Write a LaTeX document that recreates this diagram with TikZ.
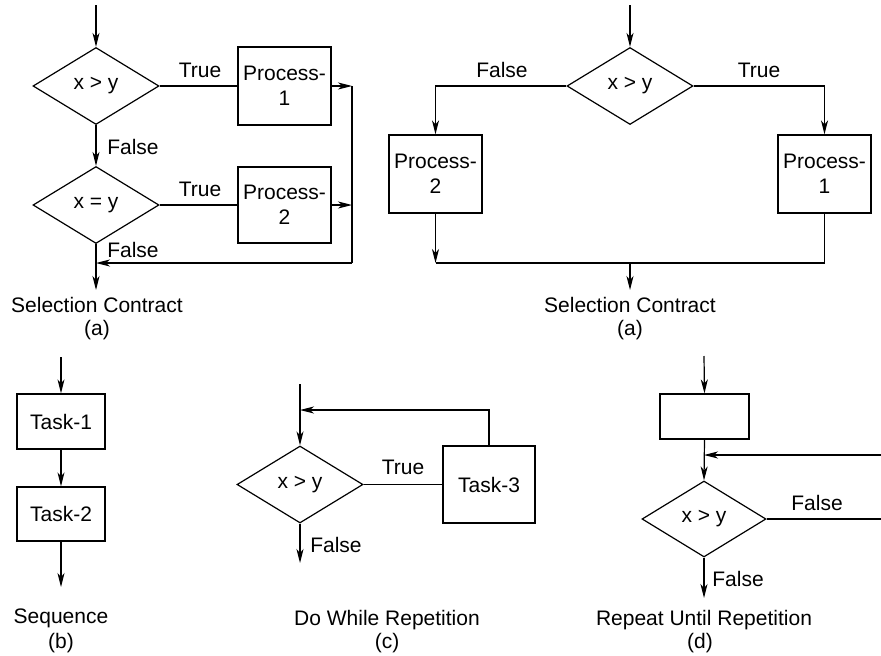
\documentclass[tikz,border=0pt]{standalone}
\usepackage{fontspec}
\setmainfont{Liberation Sans}
\usetikzlibrary{arrows.meta,shapes.geometric}
\begin{document}
\begin{tikzpicture}[x=1pt,y=-1pt,line width=1.2pt,
  every node/.style={font=\fontsize{21}{25}\selectfont},
  arr/.style={-{Stealth[length=14pt,width=7pt,inset=4pt]}},
  dec/.style={draw,diamond,inner sep=0pt,minimum width=126pt,minimum height=77pt},
  box/.style={draw,rectangle,inner sep=0pt,align=center},
  lbl/.style={inner sep=0pt}]
\useasboundingbox (0,0) rectangle (881,656);
% ---------- panel (a) left ----------
\coordinate (t1) at (96,5);
\node[dec] (d1) at (96,86) {x > y};
\node[box,minimum width=93pt,minimum height=78pt] (p1) at (284.5,86) {Process-\\1};
\node[dec] (d2) at (96,205) {x = y};
\node[box,minimum width=93pt,minimum height=76pt] (p2) at (284.5,205) {Process-\\2};
\coordinate (r1) at (352,86);
\coordinate (r2) at (352,205);
\coordinate (r3) at (352,263);
\coordinate (j1) at (96,263);
\coordinate (o1) at (96,290);
\draw[arr] (t1) -- (d1.north);
\draw (d1.east) -- (p1.west);
\draw (d2.east) -- (p2.west);
\draw[arr] (p1.east) -- (r1);
\draw[arr] (p2.east) -- (r2);
\draw (r1) -- (r3);
\draw[arr] (r3) -- (j1);
\draw[arr] (d1.south) -- (d2.north);
\draw[arr] (d2.south) -- (o1);
\node[lbl] (la1) at (200,70) {True};
\node[lbl] (la2) at (200,189) {True};
\node[lbl] (la3) at (133,147) {False};
\node[lbl] (la4) at (133,250) {False};
\node[lbl] (ca1) at (97,305) {Selection Contract};
\node[lbl] (ca2) at (97,330) {(a)};
% ---------- panel (a) right ----------
\coordinate (t2) at (630,5);
\node[dec] (d3) at (630,86) {x > y};
\node[box,minimum width=93pt,minimum height=78pt] (p3) at (435.5,174) {Process-\\2};
\node[box,minimum width=93pt,minimum height=78pt] (p4) at (824.5,174) {Process-\\1};
\coordinate (j2) at (435.5,263);
\coordinate (j3) at (824.5,263);
\coordinate (j4) at (630,263);
\coordinate (o2) at (630,290);
\draw[arr] (t2) -- (d3.north);
\draw[arr] (d3.west) -| (p3.north);
\draw[arr] (d3.east) -| (p4.north);
\draw[arr] (p3.south) -- (j2);
\draw (p4.south) -- (j3) -- (j2);
\draw[arr] (j4) -- (o2);
\node[lbl] (lb1) at (502,70) {False};
\node[lbl] (lb2) at (759,70) {True};
\node[lbl] (cb1) at (630,305) {Selection Contract};
\node[lbl] (cb2) at (630,330) {(a)};
% ---------- panel (b) ----------
\coordinate (t3) at (61,357);
\node[box,minimum width=88pt,minimum height=55pt] (k1) at (61,421.5) {Task-1};
\node[box,minimum width=88pt,minimum height=54pt] (k2) at (61,514) {Task-2};
\coordinate (o3) at (61,587);
\draw[arr] (t3) -- (k1.north);
\draw[arr] (k1.south) -- (k2.north);
\draw[arr] (k2.south) -- (o3);
\node[lbl] (cc1) at (61,618) {Sequence};
\node[lbl] (cc2) at (61,643) {(b)};
% ---------- panel (c) ----------
\coordinate (t4) at (300,384);
\node[dec] (d4) at (300,484.5) {x > y};
\node[box,minimum width=92pt,minimum height=77pt] (k3) at (489,484.5) {Task-3};
\coordinate (f1) at (300,410);
\coordinate (o4) at (300,563);
\draw[arr] (t4) -- (d4.north);
\draw[arr] (k3.north) |- (f1);
\draw (d4.east) -- (k3.west);
\draw[arr] (d4.south) -- (o4);
\node[lbl] (lc1) at (403,467) {True};
\node[lbl] (lc2) at (336,545) {False};
\node[lbl] (cd1) at (387,620) {Do While Repetition};
\node[lbl] (cd2) at (387,643) {(c)};
% ---------- panel (d) ----------
\coordinate (t5) at (704,356);
\node[box,minimum width=89pt,minimum height=45pt] (k4) at (704.5,416.5) {};
\node[dec,minimum width=124pt,minimum height=76pt] (d5) at (704,519) {x > y};
\coordinate (f2) at (704,455);
\coordinate (e1) at (882,455);
\coordinate (e2) at (882,519);
\coordinate (o5) at (704,598);
\draw[arr] (t5) -- (k4.north);
\draw[arr] (k4.south) -- (d5.north);
\draw[arr] (e1) -- (f2);
\draw (d5.east) -- (e2);
\draw[arr] (d5.south) -- (o5);
\node[lbl] (ld1) at (817,503) {False};
\node[lbl] (ld2) at (738,579) {False};
\node[lbl] (ce1) at (704,620) {Repeat Until Repetition};
\node[lbl] (ce2) at (700,643) {(d)};
\end{tikzpicture}
\end{document}
